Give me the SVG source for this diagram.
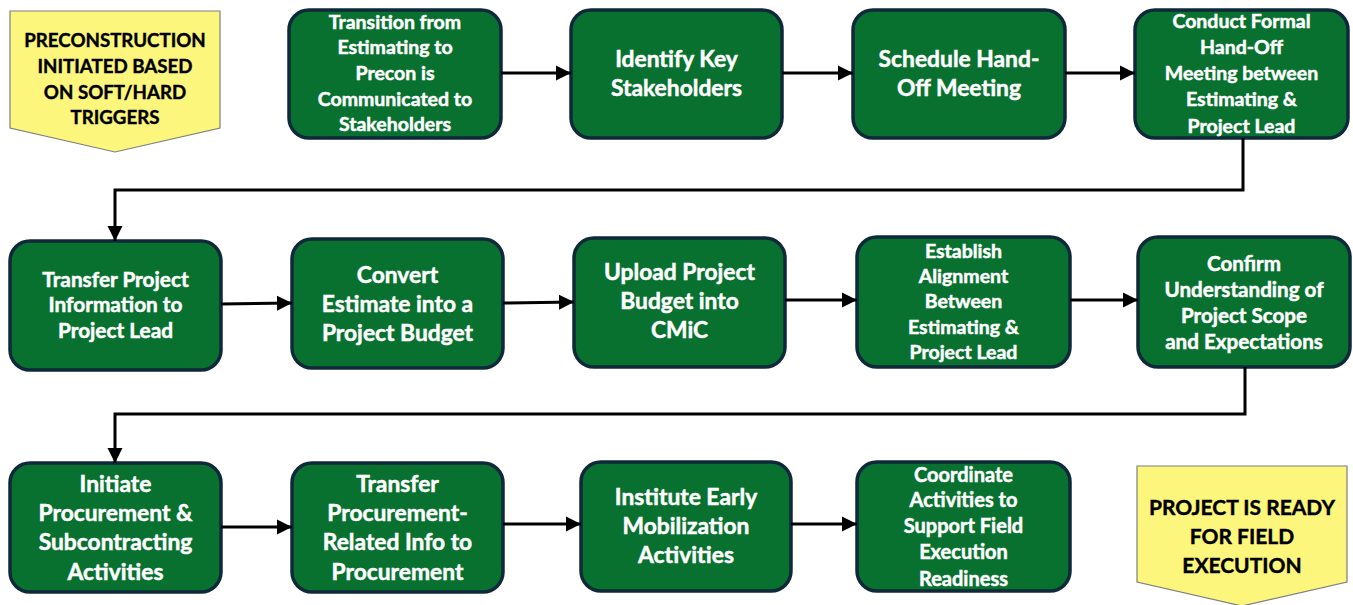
<svg xmlns="http://www.w3.org/2000/svg" width="1353" height="605" viewBox="0 0 1353 605">
<defs>
<marker id="ah" markerUnits="userSpaceOnUse" markerWidth="16" markerHeight="16" viewBox="0 0 16 16" refX="15" refY="8" orient="auto">
<path d="M0,0.5 L15,8 L0,15.5 Z" fill="#000"/>
</marker>
<style>
.n{fill:#08712f;stroke:#10293a;stroke-width:3.5}
.y{fill:#fdf67c;stroke:#7f7f7f;stroke-width:1.2}
.t{font-family:Lato,"Liberation Sans",sans-serif;font-weight:bold;fill:#fff;stroke:#fff;stroke-width:0.5;text-anchor:middle}
.k{font-family:Lato,"Liberation Sans",sans-serif;font-weight:bold;fill:#000;stroke:#000;stroke-width:0.4;text-anchor:middle}
.s{font-size:19.5px}
.m{font-size:22.8px}
.c{fill:none;stroke:#000;stroke-width:3}
</style>
</defs>
<g id="start">
<polygon class="y" points="10,11 220,11 220,128 115,152 10,128"/>
<text class="k" style="font-size:18.7px"><tspan x="115" y="47">PRECONSTRUCTION</tspan><tspan x="115" y="73">INITIATED BASED</tspan><tspan x="115" y="99">ON SOFT/HARD</tspan><tspan x="115" y="124">TRIGGERS</tspan></text>
</g>
<g id="n1">
<rect class="n" x="289" y="10" width="212" height="128" rx="20"/>
<text class="t s"><tspan x="395" y="29">Transition from</tspan><tspan x="395" y="54">Estimating to</tspan><tspan x="395" y="80">Precon is</tspan><tspan x="395" y="106">Communicated to</tspan><tspan x="395" y="131">Stakeholders</tspan></text>
</g>
<g id="n2">
<rect class="n" x="571" y="10" width="211" height="128" rx="20"/>
<text class="t m"><tspan x="676.5" y="67">Identify Key</tspan><tspan x="676.5" y="96">Stakeholders</tspan></text>
</g>
<g id="n3">
<rect class="n" x="853" y="10" width="212" height="128" rx="20"/>
<text class="t m"><tspan x="959" y="67">Schedule Hand-</tspan><tspan x="959" y="96">Off Meeting</tspan></text>
</g>
<g id="n4">
<rect class="n" x="1135" y="10" width="213" height="128" rx="20"/>
<text class="t s"><tspan x="1241.5" y="28">Conduct Formal</tspan><tspan x="1241.5" y="54">Hand-Off</tspan><tspan x="1241.5" y="80">Meeting between</tspan><tspan x="1241.5" y="106">Estimating &amp;</tspan><tspan x="1241.5" y="133">Project Lead</tspan></text>
</g>
<g id="n5">
<rect class="n" x="10" y="241" width="211" height="129" rx="20"/>
<text class="t" style="font-size:20.8px"><tspan x="115.5" y="287">Transfer Project</tspan><tspan x="115.5" y="312">Information to</tspan><tspan x="115.5" y="338">Project Lead</tspan></text>
</g>
<g id="n6">
<rect class="n" x="292" y="239" width="211" height="129" rx="20"/>
<text class="t m"><tspan x="397.5" y="283">Convert</tspan><tspan x="397.5" y="312">Estimate into a</tspan><tspan x="397.5" y="341">Project Budget</tspan></text>
</g>
<g id="n7">
<rect class="n" x="574" y="238" width="211" height="129" rx="20"/>
<text class="t m"><tspan x="679.5" y="280">Upload Project</tspan><tspan x="679.5" y="309">Budget into</tspan><tspan x="679.5" y="338">CMiC</tspan></text>
</g>
<g id="n8">
<rect class="n" x="857" y="237" width="213" height="130" rx="20"/>
<text class="t s"><tspan x="963.5" y="258">Establish</tspan><tspan x="963.5" y="283">Alignment</tspan><tspan x="963.5" y="308">Between</tspan><tspan x="963.5" y="334">Estimating &amp;</tspan><tspan x="963.5" y="359">Project Lead</tspan></text>
</g>
<g id="n9">
<rect class="n" x="1138" y="237" width="212" height="130" rx="20"/>
<text class="t" style="font-size:20.6px"><tspan x="1244" y="271">Confirm</tspan><tspan x="1244" y="297">Understanding of</tspan><tspan x="1244" y="323">Project Scope</tspan><tspan x="1244" y="349">and Expectations</tspan></text>
</g>
<g id="n10">
<rect class="n" x="10" y="463" width="211" height="129" rx="20"/>
<text class="t m"><tspan x="115.5" y="492">Initiate</tspan><tspan x="115.5" y="521">Procurement &amp;</tspan><tspan x="115.5" y="550">Subcontracting</tspan><tspan x="115.5" y="580">Activities</tspan></text>
</g>
<g id="n11">
<rect class="n" x="292" y="463" width="211" height="129" rx="20"/>
<text class="t m"><tspan x="397.5" y="492">Transfer</tspan><tspan x="397.5" y="521">Procurement-</tspan><tspan x="397.5" y="550">Related Info to</tspan><tspan x="397.5" y="580">Procurement</tspan></text>
</g>
<g id="n12">
<rect class="n" x="581" y="462" width="210" height="129" rx="20"/>
<text class="t m"><tspan x="686" y="505">Institute Early</tspan><tspan x="686" y="534">Mobilization</tspan><tspan x="686" y="563">Activities</tspan></text>
</g>
<g id="n13">
<rect class="n" x="857" y="462" width="213" height="129" rx="20"/>
<text class="t" style="font-size:20px"><tspan x="963.5" y="482">Coordinate</tspan><tspan x="963.5" y="507">Activities to</tspan><tspan x="963.5" y="533">Support Field</tspan><tspan x="963.5" y="559">Execution</tspan><tspan x="963.5" y="586">Readiness</tspan></text>
</g>
<g id="end">
<polygon class="y" points="1137,466 1347,466 1347,582 1242,606 1137,582"/>
<text class="k" style="font-size:21px"><tspan x="1242" y="515">PROJECT IS READY</tspan><tspan x="1242" y="544">FOR FIELD</tspan><tspan x="1242" y="573">EXECUTION</tspan></text>
</g>
<g id="connectors">
<path class="c" d="M501,73 H571" marker-end="url(#ah)"/>
<path class="c" d="M782,73 H853" marker-end="url(#ah)"/>
<path class="c" d="M1065,73 H1135" marker-end="url(#ah)"/>
<path class="c" d="M1243,138 V190 H115 V241" marker-end="url(#ah)"/>
<path class="c" d="M221,304 L292,303" marker-end="url(#ah)"/>
<path class="c" d="M503,303 L574,302" marker-end="url(#ah)"/>
<path class="c" d="M785,300 H857" marker-end="url(#ah)"/>
<path class="c" d="M1070,300 H1138" marker-end="url(#ah)"/>
<path class="c" d="M1245,367 V414 H115 V463" marker-end="url(#ah)"/>
<path class="c" d="M221,527 H292" marker-end="url(#ah)"/>
<path class="c" d="M503,524 H581" marker-end="url(#ah)"/>
<path class="c" d="M791,524 H857" marker-end="url(#ah)"/>
</g>
</svg>
